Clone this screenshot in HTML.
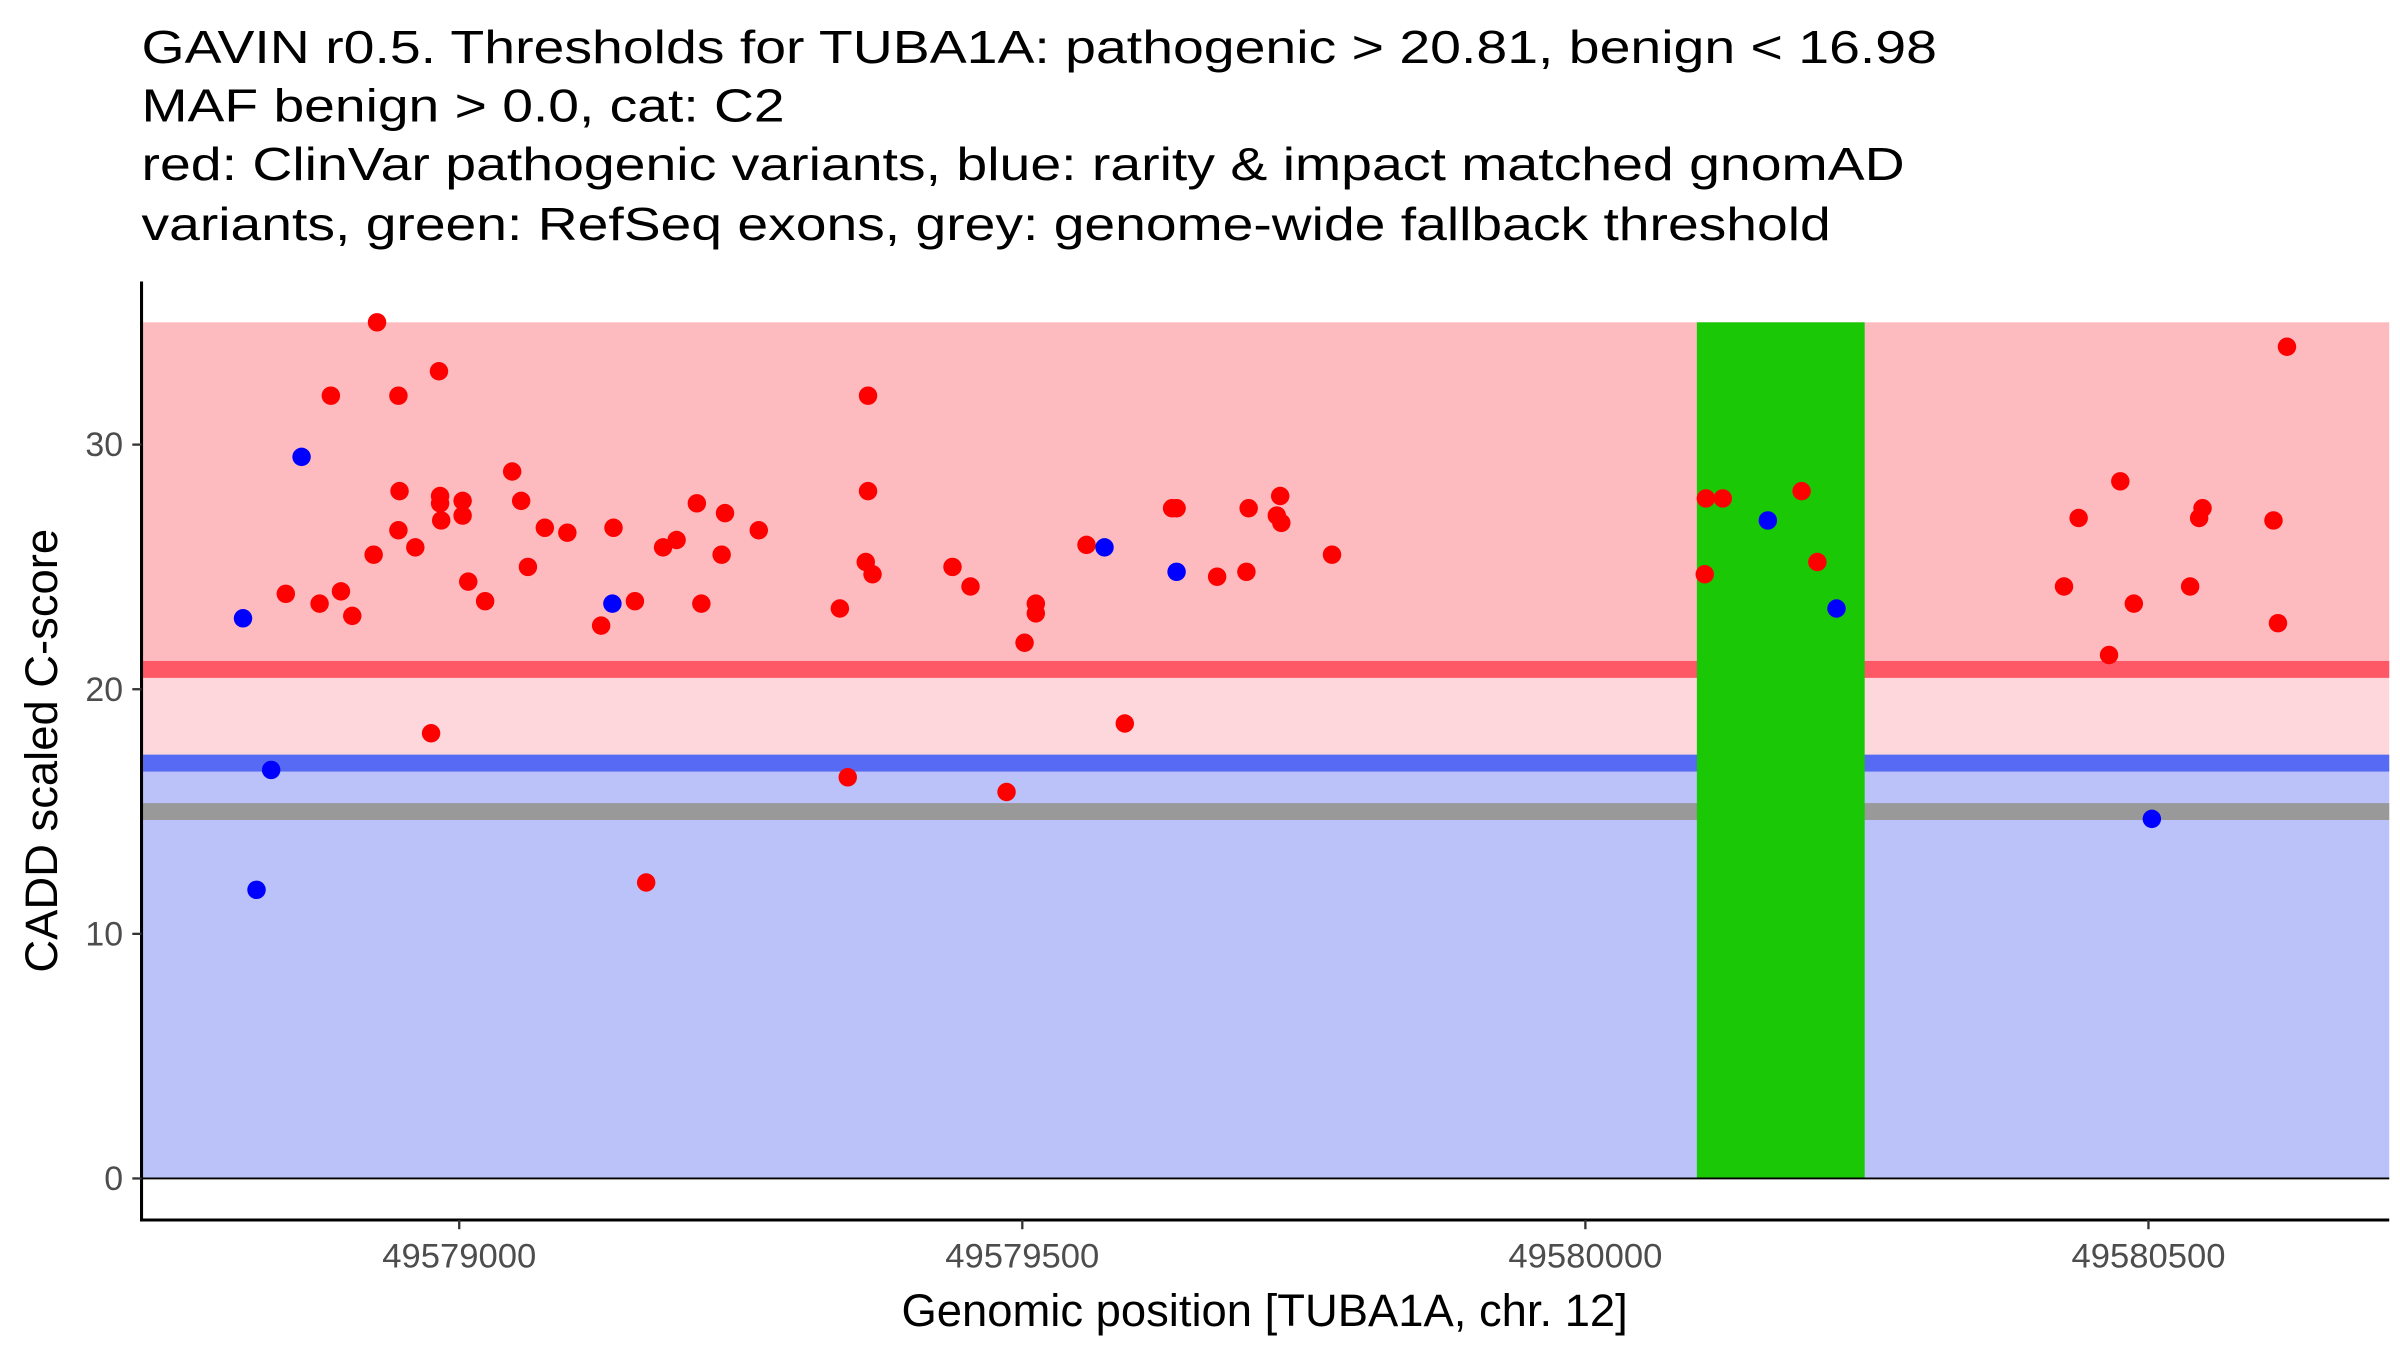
<!DOCTYPE html>
<html><head><meta charset="utf-8"><style>
html,body{margin:0;padding:0;background:#fff;}
svg{display:block;font-family:"Liberation Sans",Arial,sans-serif;}
</style></head><body>
<svg id="chart" width="2400" height="1350" viewBox="0 0 1560 877.5" xmlns="http://www.w3.org/2000/svg">
<g font-size="30" fill="#000">
<text x="92" y="41" textLength="1167" lengthAdjust="spacingAndGlyphs">GAVIN r0.5. Thresholds for TUBA1A: pathogenic &gt; 20.81, benign &lt; 16.98</text>
<text x="92" y="79" textLength="418" lengthAdjust="spacingAndGlyphs">MAF benign &gt; 0.0, cat: C2</text>
<text x="92" y="117" textLength="1146" lengthAdjust="spacingAndGlyphs">red: ClinVar pathogenic variants, blue: rarity &amp; impact matched gnomAD</text>
<text x="92" y="156" textLength="1098" lengthAdjust="spacingAndGlyphs">variants, green: RefSeq exons, grey: genome-wide fallback threshold</text>
</g>
<g id="bands"></g>
<g id="points"></g>
<g id="axes"></g>
<text x="0" y="0" font-size="29.5" text-anchor="middle" transform="translate(37,488) rotate(-90)">CADD scaled C-score</text>
<text x="822" y="862" font-size="29.5" text-anchor="middle">Genomic position [TUBA1A, chr. 12]</text>
</svg>
<script>
const pathoThreshold = 20.81;
const benignThreshold = 16.98;
const fallbackThreshold = 15.0;
const yMaxBand = 35;
const exonStart = 49580099;
const exonEnd = 49580248;
const xTicks = [49579000, 49579500, 49580000, 49580500];
const yTicks = [0, 10, 20, 30];
const redX = [49578927,49578886,49578946,49578982,49578846,49578876,49578895,49578905,49578924,49578946,49578947,49578961,49578983,49578983,49578984,49578975,49579003,49579003,49579008,49579023,49579047,49579055,49579061,49579076,49579096,49579126,49579137,49579156,49579166,49579181,49579193,49579211,49579215,49579233,49579236,49579266,49579338,49579345,49579363,49579363,49579361,49579367,49579438,49579454,49579486,49579502,49579512,49579512,49579557,49579591,49579633,49579637,49579673,49579699,49579701,49579729,49579726,49579730,49579775,49580106,49580107,49580122,49580192,49580206,49580425,49580438,49580475,49580465,49580487,49580537,49580545,49580548,49580611,49580615,49580623];
const redY = [35.0,32.0,32.0,33.0,23.9,23.5,24.0,23.0,25.5,26.5,28.1,25.8,27.9,27.6,26.9,18.2,27.7,27.1,24.4,23.6,28.9,27.7,25.0,26.6,26.4,22.6,26.6,23.6,12.1,25.8,26.1,27.6,23.5,25.5,27.2,26.5,23.3,16.4,32.0,28.1,25.2,24.7,25.0,24.2,15.8,21.9,23.5,23.1,25.9,18.6,27.4,27.4,24.6,24.8,27.4,27.9,27.1,26.8,25.5,24.7,27.8,27.8,28.1,25.2,24.2,27.0,28.5,21.4,23.5,24.2,27.0,27.4,26.9,22.7,34.0];
const blueX = [49578860,49578808,49578833,49578820,49579136,49579573,49579637,49580162,49580223,49580503];
const blueY = [29.5,22.9,16.7,11.8,23.5,25.8,24.8,26.9,23.3,14.7];

const NS = "http://www.w3.org/2000/svg";
const panelL = 92, panelR = 1553, axisY = 793, axisTop = 183;
function sx(v){ return 298.5 + (v - 49579000) * 0.732; }
function sy(v){ return 766 - v * 15.9; }
function mk(tag, attrs, parent){ const e = document.createElementNS(NS, tag); for (const k in attrs) e.setAttribute(k, attrs[k]); parent.appendChild(e); return e; }

const bands = document.getElementById('bands');
let r;
r = mk('rect', {x: panelL+1, y: sy(yMaxBand), width: panelR-panelL-1, height: sy(pathoThreshold)-sy(yMaxBand), fill: '#FDBBC0'}, bands);


r = mk('rect', {x: panelL+1, y: sy(pathoThreshold), width: panelR-panelL-1, height: sy(benignThreshold)-sy(pathoThreshold), fill: '#FDD7DC'}, bands);


r = mk('rect', {x: panelL+1, y: sy(benignThreshold), width: panelR-panelL-1, height: sy(0)-sy(benignThreshold), fill: '#BBC1F9'}, bands);


r = mk('rect', {x: panelL+1, y: sy(pathoThreshold)-5.5, width: panelR-panelL-1, height: 11, fill: '#FE5766'}, bands);


r = mk('rect', {x: panelL+1, y: sy(benignThreshold)-5.5, width: panelR-panelL-1, height: 11, fill: '#566AF4'}, bands);


r = mk('rect', {x: panelL+1, y: sy(fallbackThreshold)-5.5, width: panelR-panelL-1, height: 11, fill: '#999999'}, bands);


r = mk('rect', {x: sx(exonStart), y: sy(yMaxBand), width: sx(exonEnd)-sx(exonStart), height: sy(0)-sy(yMaxBand), fill: '#1AC805'}, bands);


r = mk('line', {x1: panelL, x2: panelR, y1: sy(0), y2: sy(0), stroke: '#000', 'stroke-width': 1.2}, bands);



const pts = document.getElementById('points');
for (let i = 0; i < redX.length; i++) {
  const c = mk('circle', {cx: sx(redX[i]), cy: sy(redY[i]), r: 6, fill: '#FF0000'}, pts);
  
  
}
for (let i = 0; i < blueX.length; i++) {
  const c = mk('circle', {cx: sx(blueX[i]), cy: sy(blueY[i]), r: 6, fill: '#0000FF'}, pts);
  
  
}

const ax = document.getElementById('axes');
let a = mk('line', {x1: panelL, x2: panelL, y1: axisTop, y2: axisY+1, stroke: '#000', 'stroke-width': 2}, ax);


a = mk('line', {x1: panelL-1, x2: panelR, y1: axisY, y2: axisY, stroke: '#000', 'stroke-width': 2}, ax);


for (const t of yTicks) {
  const l = mk('line', {x1: panelL-6, x2: panelL, y1: sy(t), y2: sy(t), stroke: '#333', 'stroke-width': 1.5}, ax);
  
  
  const tx = mk('text', {x: panelL-12, y: sy(t)+7.5, 'font-size': 22, fill: '#4D4D4D', 'text-anchor': 'end'}, ax);
  tx.textContent = String(t);
  
  
}
for (const t of xTicks) {
  const l = mk('line', {x1: sx(t), x2: sx(t), y1: axisY, y2: axisY+6, stroke: '#333', 'stroke-width': 1.5}, ax);
  
  
  const tx = mk('text', {x: sx(t), y: axisY+31, 'font-size': 22.5, fill: '#4D4D4D', 'text-anchor': 'middle'}, ax);
  tx.textContent = String(t);
  
  
}
</script>
</body></html>
